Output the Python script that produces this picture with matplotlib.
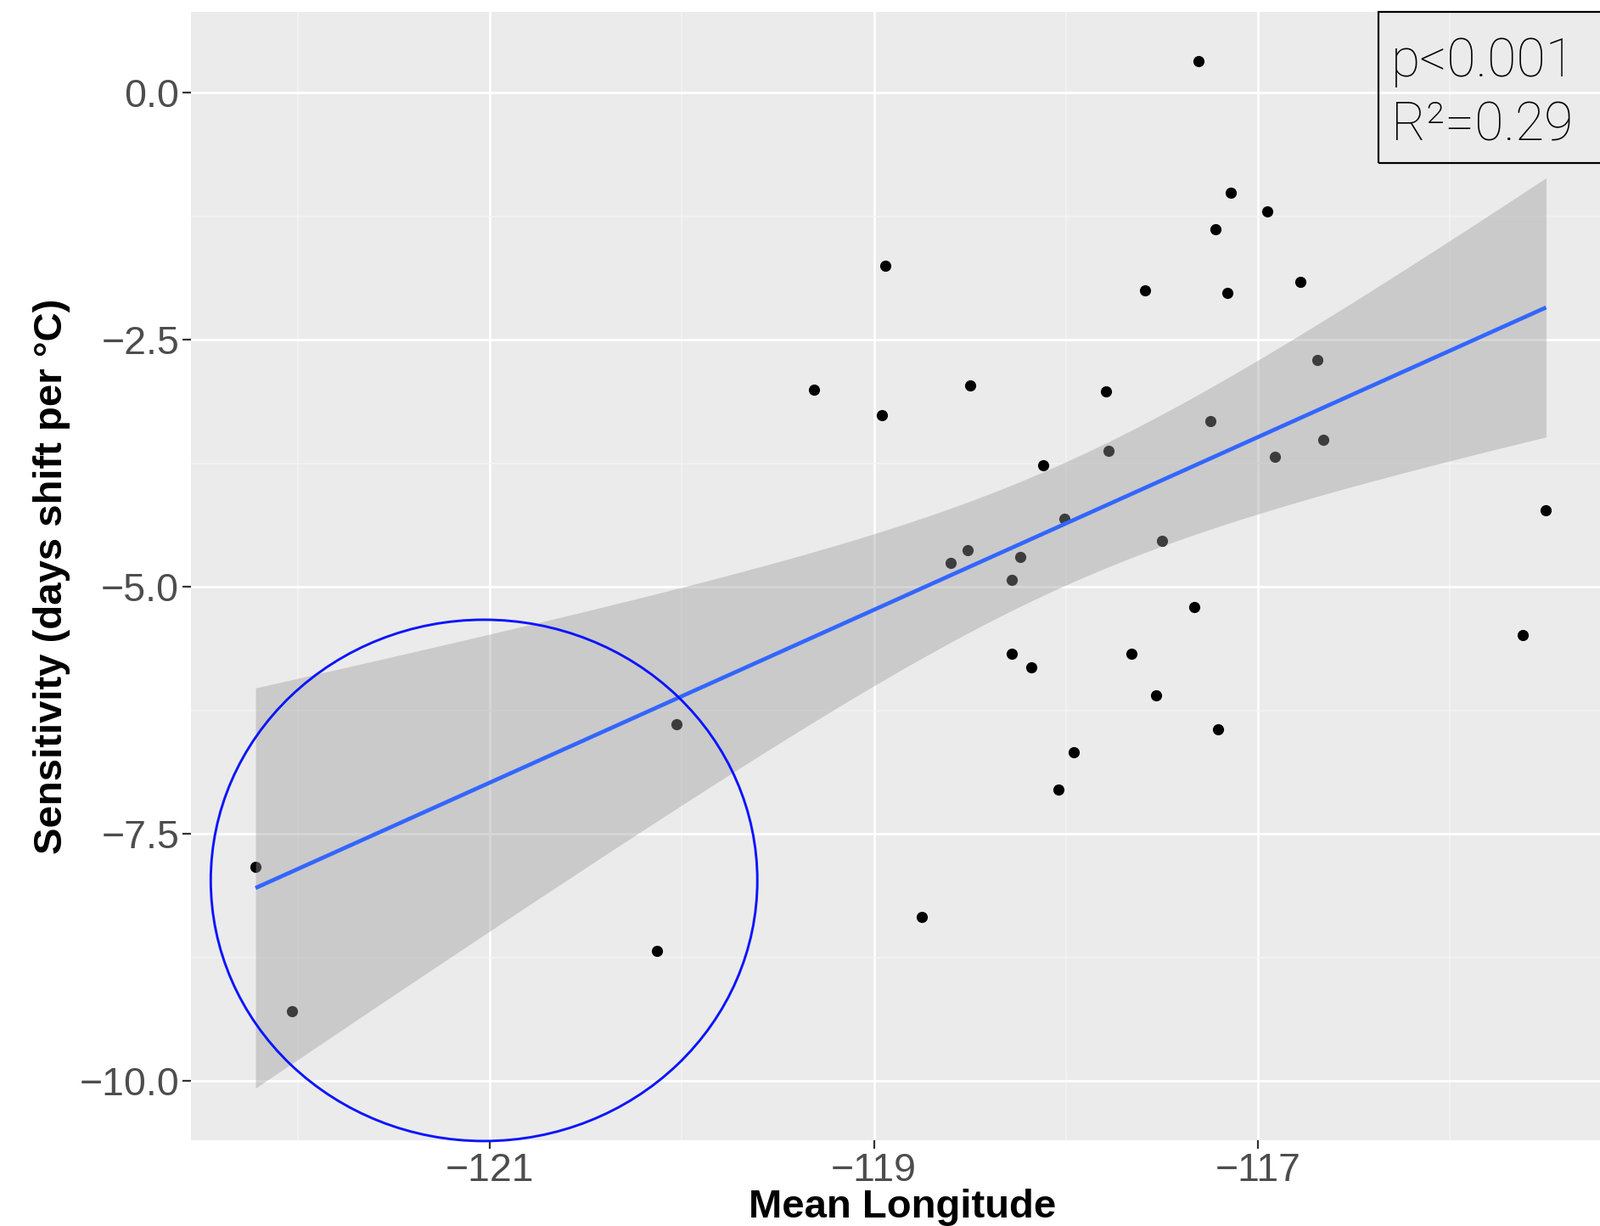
import numpy as np
import matplotlib
matplotlib.use("Agg")
import matplotlib.pyplot as plt
from matplotlib.patches import Ellipse, Rectangle

# mean longitude of each site and its sensitivity (days shift per degree C)
lon = [-117.31, -117.14, -116.95, -117.22, -118.94, -117.59, -117.16, -116.78,
       -116.69, -119.31, -118.50, -118.96, -117.79, -117.25, -116.66, -116.91,
       -117.78, -118.12, -118.01, -117.50, -118.51, -118.60, -118.24, -118.28,
       -117.33, -118.28, -117.66, -118.18, -117.53, -117.21, -117.96, -118.04,
       -118.75, -122.22, -122.03, -120.13, -120.03, -115.50, -115.62]
sens = [0.32, -1.01, -1.20, -1.38, -1.75, -2.00, -2.02, -1.91,
        -2.70, -3.00, -2.96, -3.26, -3.02, -3.32, -3.51, -3.68,
        -3.62, -3.77, -4.31, -4.53, -4.63, -4.76, -4.70, -4.93,
        -5.20, -5.68, -5.68, -5.81, -6.10, -6.44, -6.67, -7.05,
        -8.34, -7.83, -9.29, -8.68, -6.39, -4.22, -5.49]

x_major = [-121, -119, -117]
x_minor = [-122, -120, -118, -116]
y_major = [0.0, -2.5, -5.0, -7.5, -10.0]
y_minor = [-1.25, -3.75, -6.25, -8.75]
stats_lines = ["p<0.001", "R\u00b2=0.29"]

BG, GRID_MIN = "#EBEBEB", "#F4F4F4"
FIT_BLUE, RING_BLUE = "#3366FF", "#0A14FF"

x = np.array(lon); y = np.array(sens)
n = len(x)
b1, b0 = np.polyfit(x, y, 1)
xs = np.linspace(x.min(), x.max(), 80)
fit = b0 + b1 * xs
resid = y - (b0 + b1 * x)
s = np.sqrt(np.sum(resid ** 2) / (n - 2))
se = s * np.sqrt(1 / n + (xs - x.mean()) ** 2 / np.sum((x - x.mean()) ** 2))
tq = 2.026  # t(0.975, df=37)
lo, hi = fit - tq * se, fit + tq * se

W, H = 1885, 1444
fig = plt.figure(figsize=(W / 100, H / 100), dpi=100)
ax = fig.add_axes([225 / W, 101 / H, 1677 / W, 1329 / H])
ax.set_facecolor(BG)
for sp in ax.spines.values():
    sp.set_visible(False)

ax.scatter(x, y, s=90, color="black", linewidths=0, zorder=2)
ax.fill_between(xs, lo, hi, color="#999999", alpha=0.4, linewidth=0, zorder=3)
ax.plot(xs, fit, color=FIT_BLUE, lw=3.4, zorder=4, solid_capstyle="butt")

ax.set_xlim(-122.556, -115.144)
ax.set_ylim(-10.60, 0.82)
ax.set_xticks(x_major)
ax.set_xticks(x_minor, minor=True)
ax.set_yticks(y_major)
ax.set_yticks(y_minor, minor=True)
ax.set_xticklabels([f"{v:d}".replace("-", "\u2212") for v in x_major])
ax.set_yticklabels([f"{v:.1f}".replace("-", "\u2212") for v in y_major])
ax.grid(True, which="major", color="white", lw=2.0, zorder=0)
ax.grid(True, which="minor", color=GRID_MIN, lw=1.1, zorder=0)
ax.set_axisbelow(True)
ax.tick_params(which="major", length=7, width=1.6, color="#333333", pad=3,
               labelsize=33.5, labelcolor="#4D4D4D")
ax.tick_params(which="minor", length=0)
for lab in ax.get_xticklabels() + ax.get_yticklabels():
    lab.set_family("Liberation Sans")

ax.set_xlabel("Mean Longitude", fontsize=34, fontweight="bold",
              family="Liberation Sans", color="black")
ax.set_ylabel("Sensitivity (days shift per \u00b0C)", fontsize=34,
              fontweight="bold", family="Liberation Sans", color="black")
ax.xaxis.set_label_coords(0.5, -0.043)
ax.yaxis.set_label_coords(-0.0847, 0.5)

# hand-drawn style ring around the western sites
ring = Ellipse((-121.03, -7.97), 2.846, 5.276, fill=False, edgecolor=RING_BLUE,
               lw=2.1, zorder=5, clip_on=False)
ax.add_patch(ring)

# stats box in the top-right corner
ax.add_patch(Rectangle((1624 / W, 1 - 192 / H), 0.2, 178 / H, transform=fig.transFigure,
                       fill=False, edgecolor="black", lw=1.6, zorder=6, clip_on=False))
fig.text(1639 / W, 1 - 90 / H, stats_lines[0], fontsize=45, family="Roboto",
         fontweight="light", va="baseline", ha="left")
fig.text(1639 / W, 1 - 165 / H, stats_lines[1], fontsize=45, family="Roboto",
         fontweight="light", va="baseline", ha="left")

fig.savefig("out.png", dpi=100)
